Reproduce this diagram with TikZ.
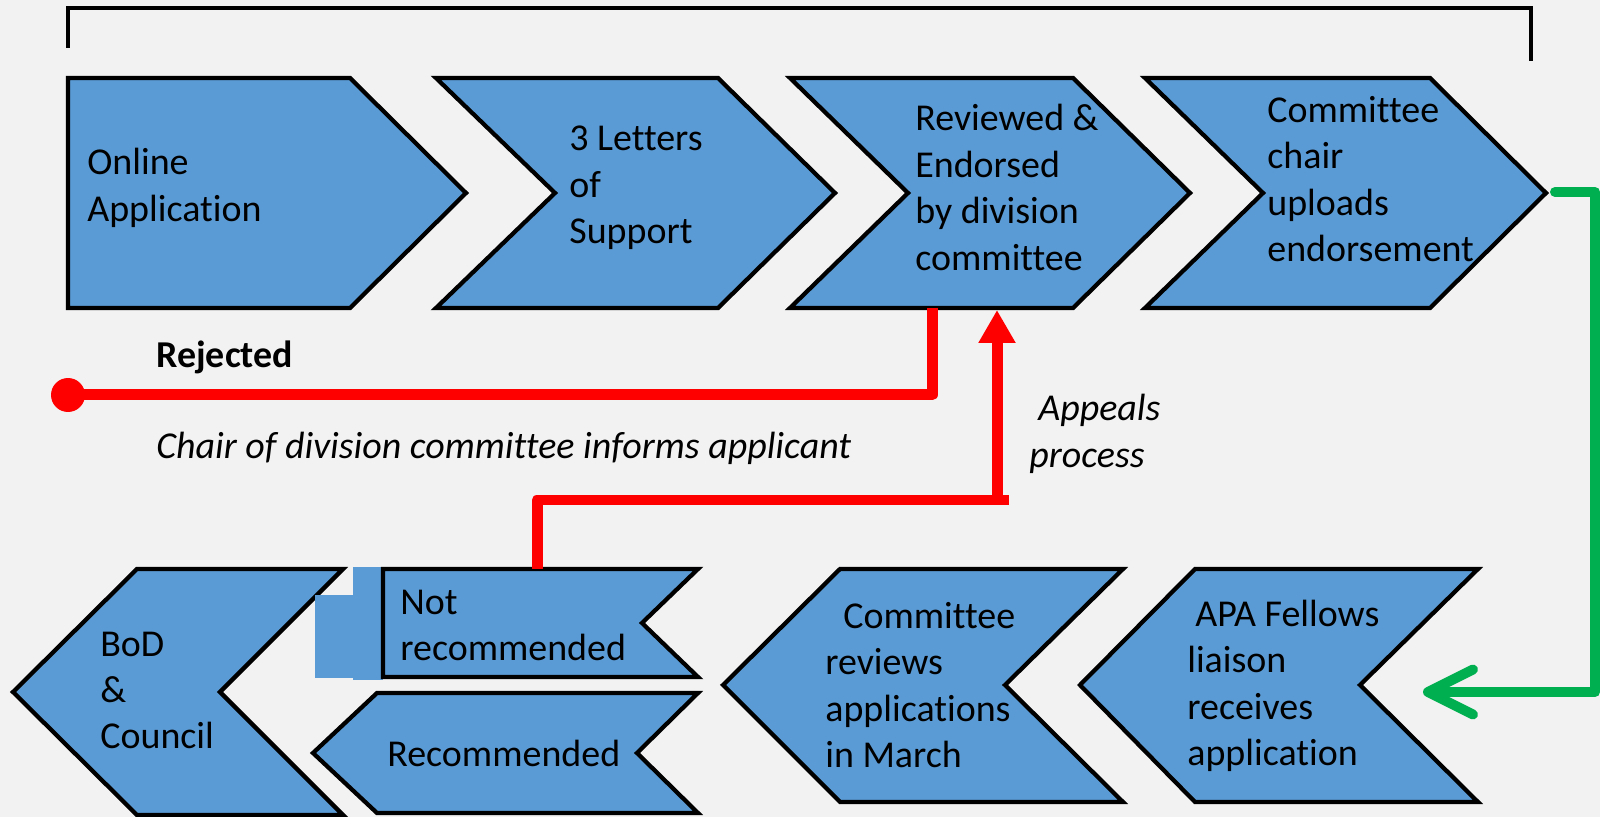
\documentclass[tikz,border=0pt]{standalone}
\usepackage{fontspec}
\setmainfont{Carlito}[Ligatures={NoCommon,NoContextual}]
\usetikzlibrary{arrows.meta}
\definecolor{bg}{RGB}{242,242,242}
\definecolor{chev}{RGB}{91,155,213}
\definecolor{redl}{RGB}{255,0,0}
\definecolor{greenl}{RGB}{0,176,80}
\begin{document}
\begin{tikzpicture}[x=0.02cm,y=-0.02cm,
  chevron/.style={fill=chev,draw=black,line width=0.085cm,line join=miter},
  patch/.style={fill=chev},
  lbl/.style={font=\fontsize{21.6}{26.4}\selectfont,align=left,anchor=west,inner sep=0pt,text=black},
  lblb/.style={lbl,font=\fontsize{21.6}{26.4}\selectfont\bfseries},
  lbli/.style={lbl,font=\fontsize{21.6}{26.4}\selectfont\itshape},
  bracketline/.style={draw=black,line width=0.07cm},
  redline/.style={draw=redl,line width=0.22cm,line join=round},
  greenline/.style={draw=greenl,line width=0.2cm,line join=round,line cap=round}]
\fill[bg] (0,0) rectangle (1600,817);
\useasboundingbox (0,0) rectangle (1600,817);

% bracket
\coordinate (brL) at (68,48);
\coordinate (brLT) at (68,8);
\coordinate (brRT) at (1531,8);
\coordinate (brR) at (1531,61);
\draw[bracketline] (brL) -- (brLT) -- (brRT) -- (brR);

% top row
\draw[chevron] (68,78) -- (350,78) -- (466,193) -- (350,308) -- (68,308) -- cycle;
\draw[chevron] (436,78) -- (718,78) -- (835,193) -- (718,308) -- (436,308) -- (555,193) -- cycle;
\draw[chevron] (790,78) -- (1073,78) -- (1190,193) -- (1073,308) -- (790,308) -- (908,193) -- cycle;
\draw[chevron] (1145,78) -- (1430,78) -- (1546,193) -- (1430,308) -- (1145,308) -- (1263,193) -- cycle;

% bottom row
\draw[chevron] (13,692) -- (137,569) -- (343,569) -- (220,692) -- (343,815) -- (137,815) -- cycle;
\fill[patch] (353,567) rectangle (383,680);
\fill[patch] (315,595) rectangle (353,678);
\draw[chevron] (383,569) -- (698,569) -- (642,623) -- (698,677) -- (383,677) -- cycle;
\draw[chevron] (313,753) -- (377,693) -- (698,693) -- (637,753) -- (698,813) -- (377,813) -- cycle;
\draw[chevron] (723,685) -- (840,569) -- (1123,569) -- (1005,685) -- (1123,802) -- (840,802) -- cycle;
\draw[chevron] (1080,685) -- (1195,569) -- (1478,569) -- (1360,685) -- (1478,802) -- (1195,802) -- cycle;

% labels
\node[lbl] (t1) at (87,188) {Online\\Application};
\node[lbl] (t2) at (569,188) {3 Letters\\of\\Support};
\node[lbl] (t3) at (915,187.5) {Reviewed \&\\Endorsed\\by division\\committee};
\node[lbl] (t4) at (1267,179) {Committee\\chair\\uploads\\endorsement};
\node[lbl] (t5) at (100,690.5) {BoD\\\&\\Council};
\node[lbl] (t6) at (400,625.5) {Not\\recommended};
\node[lbl] (t7) at (387,753) {Recommended};
\node[lbl] (t8) at (825,685) {\hspace*{0.36cm}Committee\\reviews\\applications\\in March};
\node[lbl] (t9) at (1187,686) {\hspace*{0.16cm}APA Fellows\\liaison\\receives\\application};
\node[lblb] (rej) at (156,357) {Rejected};
\node[lbli] (chair) at (156,448) {Chair of division committee informs applicant};
\node[lbli] (appeals) at (1029,434) {\hspace*{0.18cm}Appeals\\process};

% rejected connector
\coordinate (rejTop) at (932,308);
\node[circle,fill=redl,minimum size=0.68cm,inner sep=0pt] (dot) at (68,395) {};
\draw[redline] (rejTop) |- (dot.center);

% appeals connector
\coordinate (appStart) at (537,569);
\coordinate (appCorner) at (537,500);
\coordinate (appEnd) at (1009,500);
\coordinate (appBase) at (997,500);
\coordinate (appTip) at (997,310);
\draw[redline] (appStart) -- (appCorner) -- (appEnd);
\draw[redline,-{Triangle[width=0.7cm,length=0.66cm]}] (appBase) -- (appTip);

% green connector
\coordinate (gStart) at (1555,192);
\coordinate (gc1) at (1595,192);
\coordinate (gc2) at (1595,692);
\coordinate (gEnd) at (1423,692);
\draw[greenline,-{Straight Barb[length=0.9cm,width=0.9cm,round]}] (gStart) -- (gc1) -- (gc2) -- (gEnd);
\end{tikzpicture}
\end{document}
